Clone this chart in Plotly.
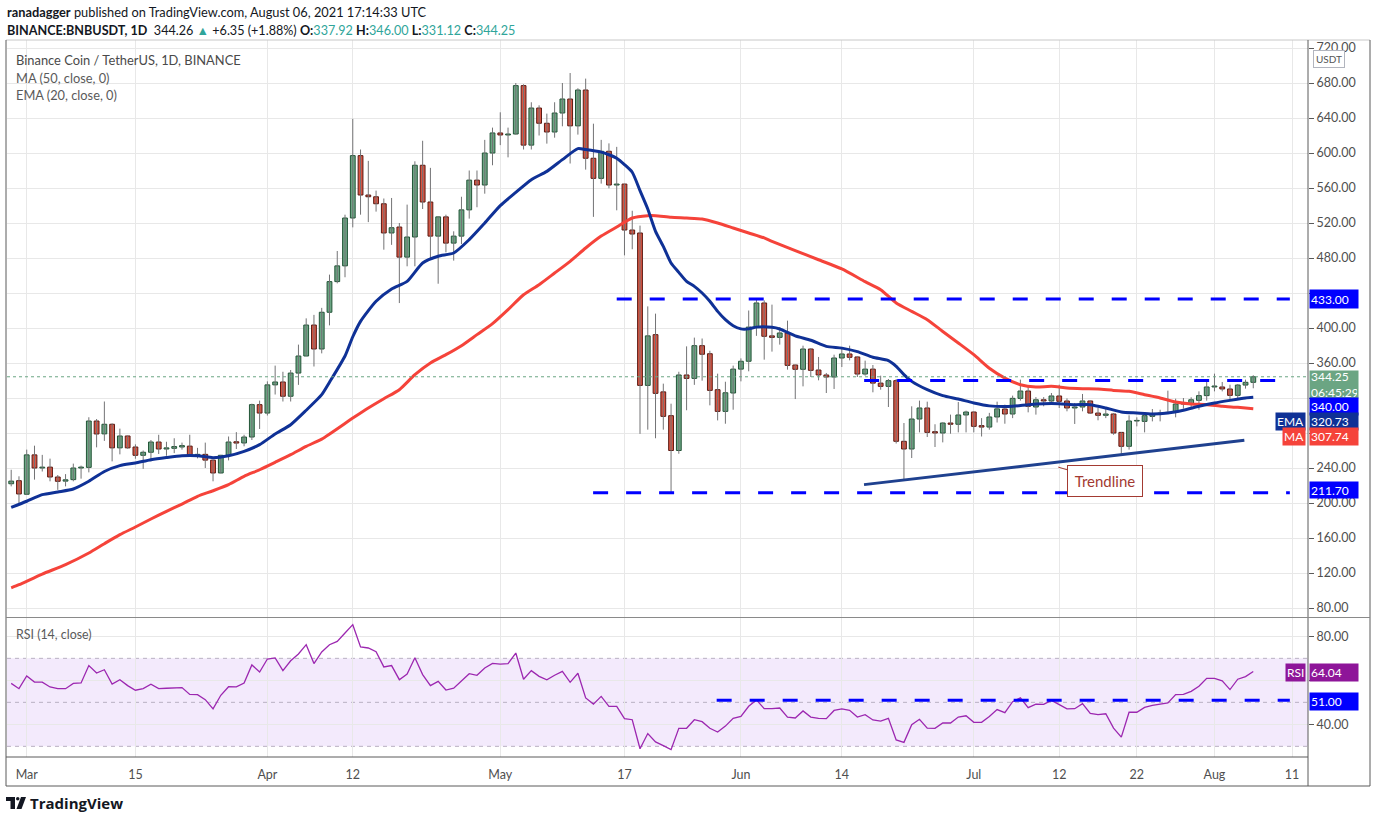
import pandas as pd
import plotly.graph_objects as go

# BNB/USDT daily candles, 27 Feb 2021 - 6 Aug 2021
start_date = "2021-02-27"
opens = [222, 225.5, 210, 255, 240, 241, 229.7, 225, 226.7, 240,
         240.7, 293.7, 279, 290, 263, 276.6, 264, 254.5, 258, 269.7,
         261.7, 262.5, 264, 265, 254.5, 255.6, 249, 234.3, 254.5, 270,
         268.6, 275.4, 312.4, 302.8, 335, 338.3, 322, 348.5, 368, 403.4,
         376, 418, 453, 471, 525.7, 597, 552, 550, 542, 508.6,
         515.4, 481, 504, 586, 544, 505, 527, 497, 505, 535,
         569, 563.4, 600, 622.9, 620.6, 621.7, 677, 609, 651.4, 634,
         624, 645.7, 661.7, 631, 672, 594, 571, 602, 563.4, 564.5,
         512, 508.6, 334.4, 392.4, 327, 299.8, 260, 346.3, 342.4, 379.8,
         370.6, 329.5, 304.7, 325.7, 353, 362, 401, 428.6, 391, 389.3,
         394.3, 357.7, 352.8, 376, 352, 346.3, 344, 365.7, 370.3, 366.9,
         347.4, 353, 337, 333.3, 339.8, 270.5, 261.7, 296, 308.6, 281.5,
         280, 291.4, 290, 300.6, 304, 288.4, 286.8, 298.3, 307.4, 301.7,
         319.6, 328, 309.7, 318, 316.6, 322.3, 316.6, 308.6, 309.7, 316.6,
         302.8, 300.2, 301.7, 280.7, 264.8, 293.7, 293.3, 299, 301.7, 302.8,
         303.6, 313.1, 313.1, 317.3, 322.7, 332.6, 332.6, 330.3, 323, 334.8,
         337.92]
highs = [238, 230.5, 261, 265.5, 255, 250.7, 232, 233, 245, 242.7,
         298, 296, 316, 291, 285, 277, 267, 260, 272, 278,
         270, 274, 269, 278, 263, 269, 249.5, 255, 276, 281,
         278, 313.5, 317, 339, 357, 350, 352, 381, 411, 415,
         423, 461, 488, 529.5, 639, 604, 591, 557, 548, 548.6,
         520, 541, 590.5, 614, 583, 527.5, 529.5, 510.5, 550, 580,
         580, 615, 629, 646.5, 629, 680, 678.5, 658, 654.5, 645,
         658, 680, 691.4, 674, 685, 633.5, 615, 611, 607, 564.5,
         534, 517, 424.7, 416.4, 336.4, 313.5, 350, 379, 389, 388,
         374, 347.8, 338.6, 357, 365.3, 420, 433, 431.6, 426.7, 401,
         408.4, 358, 379.8, 377, 366.9, 348.6, 369.5, 377, 379.8, 367.6,
         362.7, 357.7, 345.5, 341.7, 341.7, 291.4, 310.5, 317, 315.8, 290,
         292.2, 301, 315.4, 305.5, 304.5, 297, 303, 315.8, 312.4, 322.7,
         341, 333.3, 321, 321, 325.7, 335.2, 319.6, 314.3, 324.6, 317,
         308.6, 309.7, 302.8, 281, 300.2, 297.9, 302.8, 307.4, 306.6, 328.4,
         319.2, 320, 320.8, 327.6, 341, 347.8, 338.3, 335.2, 336, 341,
         346.00]
lows = [219, 198, 209.5, 226.7, 236, 224.8, 215, 219, 224.8, 227.8,
        235, 263.6, 271, 247.6, 255.6, 262, 250.6, 239, 247.6, 256,
        254, 257, 261, 252.6, 251, 240, 224.8, 234, 248.7, 261.7,
        264.8, 272, 284.6, 300, 324, 316, 316, 335, 368, 356,
        371, 403, 451, 458, 515, 529.5, 521, 533, 489.5, 495,
        428.5, 470.5, 470.5, 536, 479, 450.6, 486.5, 477, 496, 525,
        538, 553.5, 586, 609, 595, 621, 604, 604, 620, 610.7,
        617.5, 630.5, 588, 621, 581, 527, 565, 559.6, 534.5, 483,
        490, 279, 283.8, 274, 283.8, 211.7, 256.3, 306, 335, 339.8,
        311.6, 294.4, 290.6, 306.6, 339, 350.5, 391, 363.8, 373, 381,
        352.4, 318.8, 333.3, 344, 340.2, 325.7, 330.3, 355.4, 363, 344,
        345.5, 326.5, 329.5, 309.7, 268, 226, 251.4, 280.7, 275.4, 264,
        269.3, 279.2, 280.7, 280.7, 280.7, 276, 283.8, 292, 290.6, 297,
        317, 303.6, 301, 310.5, 312.4, 308.6, 304.8, 290.3, 304.8, 301.7,
        294.5, 297, 278, 254.5, 261, 287.6, 280.7, 293.3, 293.3, 302,
        297.9, 307.8, 308.6, 306.6, 317, 327.6, 327.6, 317.3, 319.2, 330.7,
        331.12]
closes = [225, 210.3, 255, 240, 241, 229.7, 224.8, 226.5, 240, 241,
          293.7, 278.9, 290, 263, 276.6, 263, 254.5, 258, 269.7, 261.7,
          263, 264.5, 265.6, 254.9, 255.6, 249, 234.3, 254.5, 269.7, 268.5,
          275.4, 312.4, 302.8, 335, 338.3, 322, 348.5, 368, 403.4, 376,
          418, 453, 471, 525.7, 597, 552, 550, 542, 508.6, 514.6,
          481, 504, 586, 544, 505, 527, 497, 505, 535, 569,
          563.4, 600, 622.9, 620.6, 621.7, 677, 609, 651.4, 634, 624,
          645.7, 661.7, 631, 672, 594, 571, 602, 563.4, 564.5, 512,
          507.4, 334.4, 391, 325.3, 299, 260, 346.3, 342.4, 379.8, 370,
          328.7, 304.7, 326, 353, 362, 401, 428.6, 390.5, 389.3, 394.3,
          357.3, 352.8, 376, 351.6, 346.3, 344, 365.7, 370.3, 366.5, 347.4,
          353, 337, 333.3, 339.8, 270.5, 261.7, 296, 308.6, 280.7, 280,
          291.4, 290, 300.6, 304, 287.6, 286.8, 298.3, 307.6, 301.7, 319.6,
          328, 310.5, 318, 316.6, 322.3, 316.2, 308.6, 309.7, 316.6, 302.8,
          300.2, 301.7, 280, 264.8, 293.7, 294.4, 299.8, 301.7, 302.8, 303.6,
          313.1, 314.3, 318, 322.7, 332.6, 333.7, 330.3, 323, 334.8, 337.92,
          344.25]

rsi = [58.6, 56.2, 62.0, 59.2, 59.2, 57.0, 56.2, 56.2, 58.6, 58.8,
       66.7, 63.3, 64.8, 58.3, 60.3, 57.6, 55.5, 56.2, 58.2, 56.2,
       56.4, 56.7, 56.7, 53.6, 53.5, 51.2, 47.0, 53.2, 57.1, 57.0,
       58.8, 67.0, 63.8, 69.7, 70.2, 64.4, 68.9, 72.0, 76.2, 67.6,
       72.9, 76.2, 77.7, 81.5, 85.3, 75.2, 74.7, 73.0, 66.1, 66.7,
       60.3, 62.9, 70.3, 62.6, 57.6, 59.5, 55.6, 56.4, 59.5, 63.0,
       62.3, 65.6, 67.7, 67.4, 67.6, 72.4, 60.5, 64.4, 61.8, 60.2,
       62.3, 64.1, 59.1, 63.2, 52.0, 49.2, 52.7, 48.2, 48.2, 42.6,
       42.1, 28.9, 35.8, 32.0, 30.3, 28.5, 38.2, 38.2, 42.1, 41.2,
       38.2, 36.5, 39.2, 42.7, 43.6, 48.2, 51.1, 47.1, 47.1, 47.4,
       43.3, 42.9, 46.1, 43.3, 42.7, 42.6, 46.3, 47.0, 46.4, 43.3,
       44.4, 42.0, 41.5, 42.7, 32.9, 31.8, 39.8, 42.3, 38.3, 38.2,
       40.6, 40.6, 43.3, 43.9, 40.9, 40.9, 43.6, 46.7, 45.3, 50.3,
       52.0, 47.6, 49.2, 49.1, 50.9, 49.1, 47.0, 47.1, 49.4, 45.0,
       44.4, 44.8, 38.3, 34.2, 45.5, 45.5, 47.7, 48.6, 49.2, 49.7,
       53.5, 53.6, 55.0, 57.3, 60.9, 60.9, 59.8, 55.8, 60.5, 61.7,
       64.04]

# EMA 20 and MA 50 read at sample candles (1-based candle number)
ema_day = [1, 3, 5, 7, 9, 11, 13, 15, 17, 19, 21, 23, 25, 27, 29, 31, 33, 35, 37, 39,
           41, 42, 44, 45, 46, 48, 50, 52, 54, 56, 58, 60, 62, 64, 66, 68, 70, 72, 74, 75,
           77, 78, 79, 80, 81, 82, 83, 84, 85, 86, 87, 88, 89, 90, 91, 92, 93, 94, 95, 96,
           97, 99, 100, 102, 104, 106, 108, 110, 112, 114, 115, 116, 117, 119, 121, 123, 125, 127, 130, 132,
           134, 136, 138, 140, 142, 144, 146, 148, 150, 152, 154, 156, 158, 160, 161]
ema_val = [195, 202, 209.5, 212.6, 216, 224.8, 236, 242.7, 245.7, 249.5, 252, 254, 254, 251.8, 254, 259, 266.7, 278.9, 289.5, 306,
           323.8, 338, 368, 390, 407.6, 430.5, 444.6, 453.3, 474.3, 482, 485.7, 501, 520, 539.8, 555, 569.5, 579, 592.4, 605, 604,
           601, 598, 594, 586.7, 578, 557, 536, 510.5, 493.3, 474.3, 463.6, 453.3, 447.6, 440, 430.5, 419, 409.5, 402.6, 399, 399,
           401, 400.8, 398.9, 391, 386, 379, 377, 373, 366.5, 362.7, 356.2, 346.7, 339, 329.5, 322.7, 318.8, 314.3, 311, 310.5, 312.4,
           313.5, 313.5, 312.4, 312.4, 308.6, 304, 302.8, 301.7, 302.8, 306, 310.5, 314.3, 317.3, 320, 320.73]
ma_day = [1, 2, 5, 8, 11, 13, 15, 17, 19, 21, 23, 25, 27, 29, 31, 33, 35, 37, 39, 41,
          45, 47, 49, 51, 53, 55, 57, 59, 61, 63, 65, 67, 69, 71, 73, 75, 77, 79, 81, 83,
          84, 86, 88, 90, 92, 94, 96, 98, 99, 102, 105, 108, 111, 113, 115, 117, 119, 121, 123, 125,
          127, 129, 131, 133, 135, 137, 139, 141, 143, 145, 147, 149, 151, 153, 155, 157, 159, 161]
ma_val = [103, 106.6, 118.8, 129.5, 142.8, 153.5, 163.8, 172.6, 181.7, 190.5, 198.8, 207.6, 214, 221, 230.5, 238, 246.5, 255.2, 264.8, 273,
          297, 308.6, 319.2, 329.5, 346.6, 360, 369.5, 379.8, 392.4, 405, 421, 438, 449.5, 462.8, 476.2, 491.4, 505, 515.4, 525.7, 528.4,
          528.4, 526.5, 525.7, 524.6, 520, 514.3, 508.6, 502.9, 499, 488.5, 478, 467.5, 453, 443.8, 428.6, 419, 409.5, 396, 382.9, 369.5,
          354, 342.8, 335.2, 332.6, 333.3, 331.4, 330.6, 330.3, 328.7, 327.6, 323.8, 320, 315.4, 313.1, 312.4, 310.5, 309.3, 307.74]

# drawn levels and trendline
levels = [433.00, 340.00, 211.70]
level_start = ["2021-05-16 00:00", "2021-06-16 21:00", "2021-05-12 23:00"]
level_end = "2021-08-10 17:00"
rsi_level = 51.00
rsi_level_start = "2021-05-28 21:00"
trend_x = ["2021-06-16 20:40", "2021-08-04 20:24"]
trend_y = [221.0, 271.6]

tick_dates = ["2021-03-01", "2021-03-15", "2021-04-01", "2021-04-12", "2021-05-01", "2021-05-17",
              "2021-06-01", "2021-06-14", "2021-07-01", "2021-07-12", "2021-07-22", "2021-08-01", "2021-08-11"]
tick_text = ["Mar", "15", "Apr", "12", "May", "17", "Jun", "14", "Jul", "12", "22", "Aug", "11"]
price_ticks = list(range(80, 721, 40))
hidden_price_ticks = [440, 320, 280]   # covered by the value tags
rsi_ticks = [40, 60, 80]
hidden_rsi_ticks = [60]

UP, UP_EDGE = "#6ba583", "#225437"
DOWN, DOWN_EDGE = "#d75442", "#5b1a13"
EMA_C, MA_C, RSI_C, LEVEL_C = "#0f3196", "#f5433a", "#9c27b0", "#0000ff"
GRID = "#e8e8e8"
FONT = "Lato"

W, H = 1376, 823
ML, MR, MT, MB = 7, 68, 40, 66


def px(x):
    return (x - ML) / (W - ML - MR)


def py(y):
    return (H - MB - y) / (H - MT - MB)


dates = pd.date_range(start_date, periods=len(closes), freq="D")
x_range = ["2021-02-26 11:00", "2021-08-13 01:10"]

wick_x, wick_y = [], []
for d, h, l in zip(dates, highs, lows):
    wick_x += [d, d, None]
    wick_y += [h, l, None]

up = [c >= o for o, c in zip(opens, closes)]
body_base = [min(o, c) for o, c in zip(opens, closes)]
body_len = [abs(c - o) for o, c in zip(opens, closes)]

fig = go.Figure()

fig.add_trace(go.Scatter(x=wick_x, y=wick_y, mode="lines",
                         line=dict(color="#737375", width=1), hoverinfo="skip"))
fig.add_trace(go.Bar(x=dates, y=body_len, base=body_base, width=0.62 * 86400000,
                     marker=dict(color=[UP if u else DOWN for u in up],
                                 line=dict(color=[UP_EDGE if u else DOWN_EDGE for u in up], width=1))))

fig.add_trace(go.Scatter(x=[dates[i - 1] for i in ma_day], y=ma_val, mode="lines",
                         line=dict(color=MA_C, width=3, shape="spline", smoothing=0.6)))
fig.add_trace(go.Scatter(x=[dates[i - 1] for i in ema_day], y=ema_val, mode="lines",
                         line=dict(color=EMA_C, width=3, shape="spline", smoothing=0.6)))

for lv, st in zip(levels, level_start):
    fig.add_trace(go.Scatter(x=[st, level_end], y=[lv, lv], mode="lines",
                             line=dict(color=LEVEL_C, width=3, dash="15px,18px")))

fig.add_trace(go.Scatter(x=trend_x, y=trend_y, mode="lines",
                         line=dict(color="#1f418f", width=3)))

# RSI pane
fig.add_trace(go.Scatter(x=dates, y=rsi, mode="lines", xaxis="x2", yaxis="y2",
                         line=dict(color=RSI_C, width=1.3)))
fig.add_trace(go.Scatter(x=[rsi_level_start, level_end], y=[rsi_level, rsi_level], mode="lines",
                         xaxis="x2", yaxis="y2",
                         line=dict(color=LEVEL_C, width=3, dash="15px,18px")))

shapes = [
    dict(type="rect", xref="paper", yref="y2", x0=0, x1=1, y0=30, y1=70,
         fillcolor="rgba(150, 60, 230, 0.11)", line_width=0, layer="between"),
    dict(type="line", xref="paper", yref="y", x0=0, x1=1, y0=closes[-1], y1=closes[-1],
         line=dict(color=UP, width=1, dash="dot")),
]
for v in (30, 50, 70):
    shapes.append(dict(type="line", xref="paper", yref="y2", x0=0, x1=1, y0=v, y1=v,
                       line=dict(color="#b9b0c2", width=1, dash="4px,4px"), layer="between"))

frame = "#5a5a5a"
shapes += [
    dict(type="line", xref="paper", yref="paper", x0=px(6), x1=px(1370), y0=py(40), y1=py(40),
         line=dict(color="#c8c8c8", width=1)),
    dict(type="line", xref="paper", yref="paper", x0=px(6), x1=px(6), y0=py(40), y1=py(786),
         line=dict(color=frame, width=1)),
    dict(type="line", xref="paper", yref="paper", x0=px(1370), x1=px(1370), y0=py(40), y1=py(786),
         line=dict(color=frame, width=1)),
    dict(type="line", xref="paper", yref="paper", x0=px(6), x1=px(1370), y0=py(786), y1=py(786),
         line=dict(color=frame, width=1)),
    dict(type="line", xref="paper", yref="paper", x0=1, x1=1, y0=py(40), y1=py(786),
         line=dict(color=frame, width=1)),
    dict(type="line", xref="paper", yref="paper", x0=px(6), x1=1, y0=py(757), y1=py(757),
         line=dict(color=frame, width=1)),
    dict(type="line", xref="paper", yref="paper", x0=px(6), x1=px(1370), y0=py(617.5), y1=py(617.5),
         line=dict(color="#8a8a8a", width=1)),
]

# TradingView logo mark
logo = "#131722"
shapes += [
    dict(type="rect", xref="paper", yref="paper", x0=px(6), x1=px(15), y0=py(797), y1=py(801),
         fillcolor=logo, line_width=0),
    dict(type="rect", xref="paper", yref="paper", x0=px(10.5), x1=px(15), y0=py(797), y1=py(809),
         fillcolor=logo, line_width=0),
    dict(type="circle", xref="paper", yref="paper", x0=px(16), x1=px(19.5), y0=py(797), y1=py(800.5),
         fillcolor=logo, line_width=0),
    dict(type="path", xref="paper", yref="paper",
         path=f"M {px(21)} {py(797)} L {px(26)} {py(797)} L {px(21.5)} {py(809)} L {px(16.5)} {py(809)} Z",
         fillcolor=logo, line_width=0),
]

teal = "#2fa59a"
sp = "&nbsp;"
annotations = [
    dict(xref="paper", yref="paper", x=px(5), y=py(12), xanchor="left", yanchor="middle", showarrow=False,
         text="<b>ranadagger</b> published on TradingView.com, August 06, 2021 17:14:33 UTC",
         font=dict(family=FONT, size=12.8, color="#131722")),
    dict(xref="paper", yref="paper", x=px(5), y=py(31), xanchor="left", yanchor="middle", showarrow=False,
         text=(f"<b>BINANCE:BNBUSDT, 1D</b>{sp} 344.26 <span style='color:{teal}'>▲</span> +6.35 (+1.88%) "
               f"<b>O:</b><span style='color:{teal}'>337.92</span> <b>H:</b><span style='color:{teal}'>346.00</span> "
               f"<b>L:</b><span style='color:{teal}'>331.12</span> <b>C:</b><span style='color:{teal}'>344.25</span>"),
         font=dict(family=FONT, size=12.6, color="#131722")),
    dict(xref="paper", yref="paper", x=px(14), y=py(60), xanchor="left", yanchor="middle", showarrow=False,
         text="Binance Coin / TetherUS, 1D, BINANCE", font=dict(family=FONT, size=12.9, color="#4a4a4a")),
    dict(xref="paper", yref="paper", x=px(14), y=py(77.5), xanchor="left", yanchor="middle", showarrow=False,
         text="MA (50, close, 0)", font=dict(family=FONT, size=12.8, color="#5a5a5a")),
    dict(xref="paper", yref="paper", x=px(14), y=py(95), xanchor="left", yanchor="middle", showarrow=False,
         text="EMA (20, close, 0)", font=dict(family=FONT, size=12.8, color="#5a5a5a")),
    dict(xref="paper", yref="paper", x=px(14), y=py(634.5), xanchor="left", yanchor="middle", showarrow=False,
         text="RSI (14, close)", font=dict(family=FONT, size=12.4, color="#5a5a5a")),
    dict(xref="paper", yref="paper", x=px(28), y=py(803), xanchor="left", yanchor="middle", showarrow=False,
         text="<b>TradingView</b>", font=dict(family="Open Sans", size=15, color=logo)),
    dict(xref="paper", yref="paper", x=px(1313), y=py(59), xanchor="left", yanchor="middle", showarrow=False,
         text="USDT", font=dict(family=FONT, size=10, color="#555"), bordercolor="#b2b5be",
         borderwidth=1, borderpad=2, bgcolor="white"),
    # trendline callout
    dict(x="2021-07-11 21:00", y=241, xref="x", yref="y", text="Trendline", showarrow=True,
         arrowhead=0, arrowwidth=1, arrowcolor="#a33a32", ax=47, ay=14,
         font=dict(family=FONT, size=15, color="#a33a32"), bgcolor="white",
         bordercolor="#a33a32", borderwidth=1, borderpad=4, width=66, height=22),
]


def axis_label(ypx, text, bg, h=15):
    return dict(xref="paper", yref="paper", x=1, y=py(ypx), xanchor="left", yanchor="middle",
                showarrow=False, text=text, bgcolor=bg, width=46, height=h, align="left",
                borderpad=1, xshift=1, font=dict(family=FONT, size=12, color="white"))


def tag_label(ypx, text, bg):
    return dict(xref="paper", yref="paper", x=1, y=py(ypx), xanchor="right", yanchor="middle",
                showarrow=False, text=text, bgcolor=bg, height=15, borderpad=1, xshift=-2,
                font=dict(family=FONT, size=12, color="white"))


annotations += [
    axis_label(299, f"{levels[0]:.2f}", LEVEL_C, 16),
    axis_label(384.5, f"{closes[-1]:.2f}<br>06:45:29", UP, 25),
    axis_label(406, f"{levels[1]:.2f}", LEVEL_C),
    axis_label(421.5, f"{ema_val[-1]:.2f}", EMA_C),
    axis_label(436.7, f"{ma_val[-1]:.2f}", MA_C),
    axis_label(490, f"{levels[2]:.2f}", LEVEL_C, 14),
    axis_label(672, f"{rsi[-1]:.2f}", "#8e1599"),
    axis_label(701, f"{rsi_level:.2f}", LEVEL_C),
    tag_label(421.5, "EMA", EMA_C),
    tag_label(436.7, "MA", MA_C),
    tag_label(672, "RSI", "#8e1599"),
]

price_text = ["" if v in hidden_price_ticks else f"{v:.2f}" for v in price_ticks]
rsi_text = ["" if v in hidden_rsi_ticks else f"{v:.2f}" for v in rsi_ticks]

tick_font = dict(family=FONT, size=12.5, color="#4f4f4f")
fig.update_layout(
    width=W, height=H,
    margin=dict(l=ML, r=MR, t=MT, b=MB),
    paper_bgcolor="white", plot_bgcolor="white",
    showlegend=False, barmode="overlay", hovermode=False,
    xaxis=dict(domain=[0, 1], anchor="y", type="date", range=x_range, tickvals=tick_dates,
               showticklabels=False, showgrid=True, gridcolor=GRID, zeroline=False, showline=False),
    xaxis2=dict(domain=[0, 1], anchor="y2", type="date", range=x_range, matches="x",
                tickvals=tick_dates, ticktext=tick_text, showgrid=True, gridcolor=GRID,
                zeroline=False, showline=False, ticks="outside", ticklen=6,
                tickcolor="rgba(0,0,0,0)", tickfont=tick_font),
    yaxis=dict(domain=[py(617), 1], anchor="x", side="right", range=[69.71, 729.14],
               tickvals=price_ticks, ticktext=price_text, showgrid=True, gridcolor=GRID,
               zeroline=False, showline=False, ticks="outside", ticklen=5, tickcolor="#5a5a5a",
               tickfont=tick_font),
    yaxis2=dict(domain=[0, py(618)], anchor="x2", side="right", range=[25.15, 88.33],
                tickvals=rsi_ticks, ticktext=rsi_text, showgrid=True, gridcolor=GRID,
                zeroline=False, showline=False, ticks="outside", ticklen=5, tickcolor="#5a5a5a",
                tickfont=tick_font),
    shapes=shapes,
    annotations=annotations,
)

fig.write_html("out.html", config={"displayModeBar": False},
               post_script="document.body.style.margin='0';document.body.style.overflow='hidden';")
